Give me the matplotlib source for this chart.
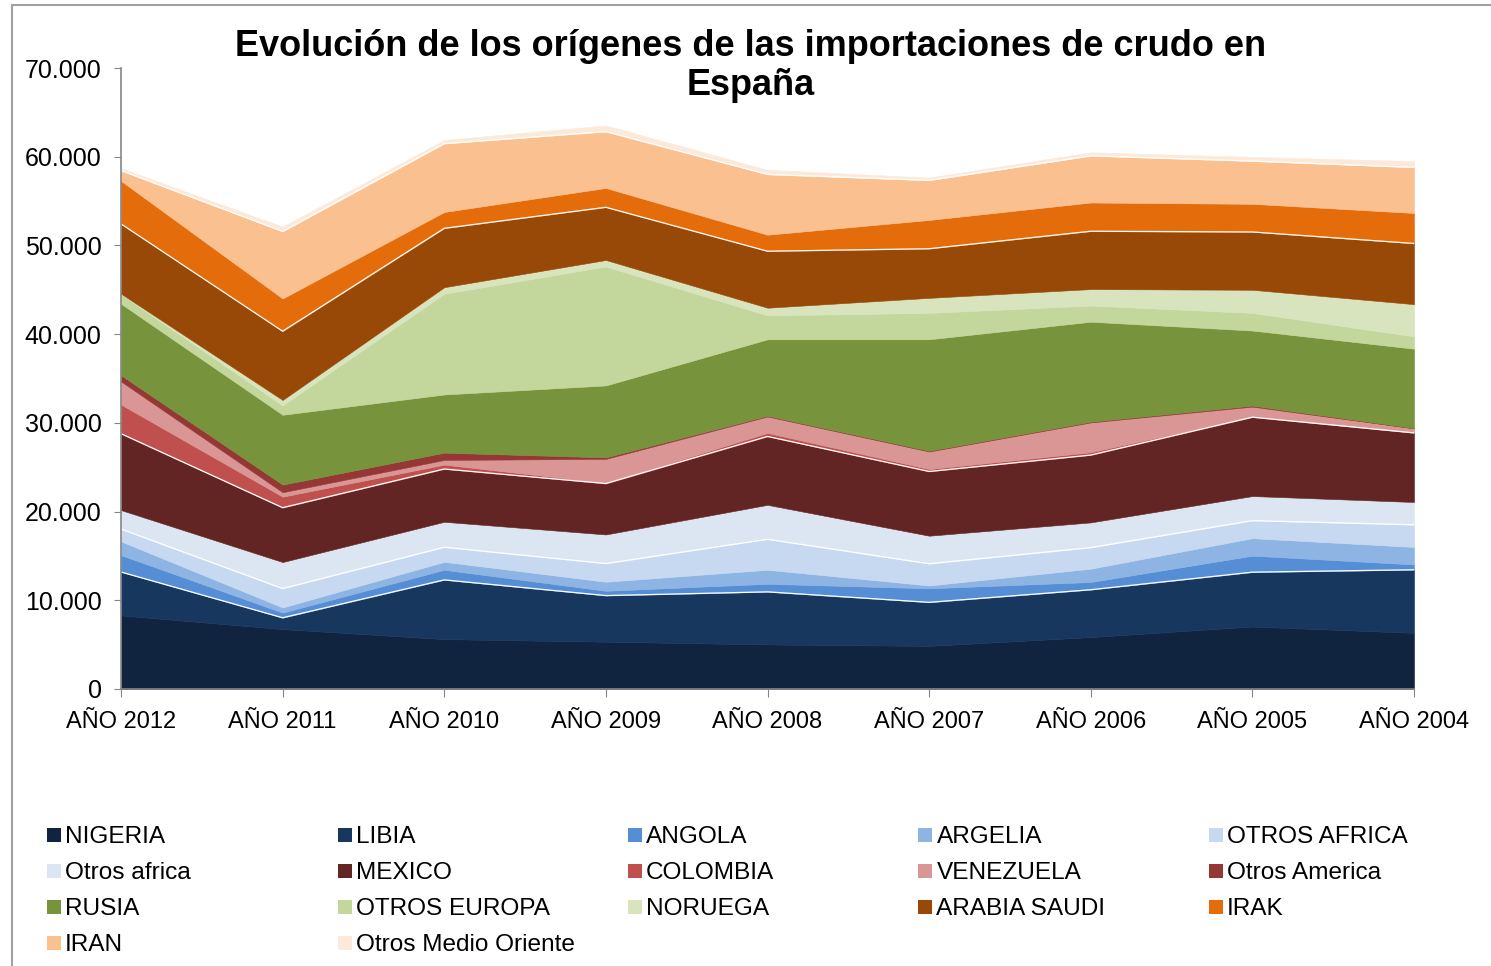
"""
Evolución de los orígenes de las importaciones de crudo en España (área apilada).

Ejecución:
    python plot.py

Genera:
    out.png
"""

import numpy as np
from matplotlib import pyplot as plt
from matplotlib.lines import Line2D
from matplotlib.patches import Rectangle
from matplotlib.ticker import FuncFormatter

plt.rcParams["font.family"] = ["Liberation Sans", "DejaVu Sans"]

W, H = 1491, 966

years = ["AÑO 2012", "AÑO 2011", "AÑO 2010", "AÑO 2009", "AÑO 2008",
         "AÑO 2007", "AÑO 2006", "AÑO 2005", "AÑO 2004"]

# miles de toneladas
nigeria = [8300, 6750, 5620, 5330, 5020, 4860, 5850, 7040, 6330]
libia = [4890, 1280, 6680, 5200, 5930, 4910, 5340, 6130, 7110]
angola = [1900, 580, 1140, 540, 910, 1580, 870, 1860, 600]
argelia = [1550, 580, 900, 1020, 1580, 320, 1500, 1970, 1970]
otros_africa_1 = [1390, 2130, 1640, 2050, 3440, 2450, 2380, 1980, 2500]
otros_africa_2 = [2140, 2990, 2870, 3280, 3880, 3160, 2840, 2770, 2570]
mexico = [8610, 6130, 5950, 5740, 7710, 7240, 7590, 8890, 7790]
colombia = [3290, 1240, 490, 80, 400, 270, 320, 80, 30]
venezuela = [2600, 500, 530, 2700, 1850, 1980, 3360, 1110, 480]
otros_america = [700, 860, 820, 170, 80, 80, 80, 120, 20]
rusia = [8060, 7870, 6560, 8110, 8620, 12570, 11270, 8460, 8960]
otros_europa = [1050, 1050, 11350, 13400, 2690, 2970, 1820, 1980, 1380]
noruega = [80, 620, 740, 740, 870, 1700, 1860, 2610, 3640]
arabia_saudi = [7870, 7750, 6640, 5940, 6370, 5540, 6520, 6520, 6840]
irak = [4850, 3690, 1840, 2180, 1860, 3240, 3240, 3170, 3440]
iran = [1160, 7560, 7710, 6350, 6800, 4470, 5260, 4820, 5140]
otros_medio_oriente = [270, 540, 410, 700, 510, 310, 400, 470, 710]

labels = ["NIGERIA", "LIBIA", "ANGOLA", "ARGELIA", "OTROS AFRICA",
          "Otros africa", "MEXICO", "COLOMBIA", "VENEZUELA", "Otros America",
          "RUSIA", "OTROS EUROPA", "NORUEGA", "ARABIA SAUDI", "IRAK",
          "IRAN", "Otros Medio Oriente"]

colors = ["#10233f", "#17375e", "#558ed5", "#8eb4e3", "#c6d9f1",
          "#dce6f2", "#632523", "#c0504d", "#d99694", "#953735",
          "#77933c", "#c3d69b", "#d7e4bd", "#984807", "#e46c0a",
          "#fac090", "#fde9d9"]

title_lines = ["Evolución de los orígenes de las importaciones de crudo en", "España"]

# series con línea blanca en el borde superior
white_top = ["LIBIA", "OTROS AFRICA", "MEXICO", "ARABIA SAUDI", "IRAN"]


def px_x(v):
    return v / W


def px_y(v):
    return 1 - v / H


def main() -> None:
    series = [nigeria, libia, angola, argelia, otros_africa_1, otros_africa_2,
              mexico, colombia, venezuela, otros_america, rusia, otros_europa,
              noruega, arabia_saudi, irak, iran, otros_medio_oriente]

    fig = plt.figure(figsize=(W / 100, H / 100), dpi=100)
    ax = fig.add_axes([px_x(121), px_y(689), px_x(1414) - px_x(121), px_y(68) - px_y(689)])

    x = np.arange(len(years))
    polys = ax.stackplot(x, *series, colors=colors, linewidth=0.4)
    for p, c in zip(polys, colors):
        p.set_edgecolor(c)

    tops = np.cumsum(np.array(series, dtype=float), axis=0)
    for name, top in zip(labels, tops):
        if name in white_top:
            ax.plot(x, top, color="white", lw=0.9)

    ax.set_xlim(0, len(years) - 1)
    ax.set_ylim(0, 70000)
    ax.set_xticks(x)
    ax.set_xticklabels(years, fontsize=17)
    ax.set_yticks(np.arange(0, 70001, 10000))
    ax.yaxis.set_major_formatter(FuncFormatter(lambda v, _: f"{int(v):,}".replace(",", ".")))
    ax.tick_params(axis="y", labelsize=18, length=5, color="#868686", pad=9)
    ax.tick_params(axis="x", length=6, color="#868686", pad=10)
    for side in ["top", "right"]:
        ax.spines[side].set_visible(False)
    for side in ["left", "bottom"]:
        ax.spines[side].set_color("#868686")
        ax.spines[side].set_linewidth(1.2)
    ax.set_axisbelow(False)

    # título en dos líneas
    for line, base in zip(title_lines, [56, 95]):
        fig.text(px_x(751), px_y(base), line, ha="center", va="baseline",
                 fontsize=26, fontweight="bold")

    # leyenda: 5 columnas, llenado por filas
    for i, (name, c) in enumerate(zip(labels, colors)):
        col, row = i % 5, i // 5
        x0 = 47 + col * 290.5
        yc = 835 + row * 36
        fig.add_artist(Rectangle((px_x(x0), px_y(yc + 7)), 14 / W, 14 / H,
                                 transform=fig.transFigure, facecolor=c, edgecolor="none"))
        fig.text(px_x(x0 + 18), px_y(yc + 8), name, fontsize=17.6, ha="left", va="baseline")

    # marco del gráfico
    fig.add_artist(Line2D([px_x(12), px_x(12)], [0, px_y(5)], color="#a0a0a0", lw=1.5))
    fig.add_artist(Line2D([px_x(12), 1], [px_y(5), px_y(5)], color="#a0a0a0", lw=1.5))

    fig.savefig("out.png", dpi=100)
    plt.close(fig)


if __name__ == "__main__":
    main()
